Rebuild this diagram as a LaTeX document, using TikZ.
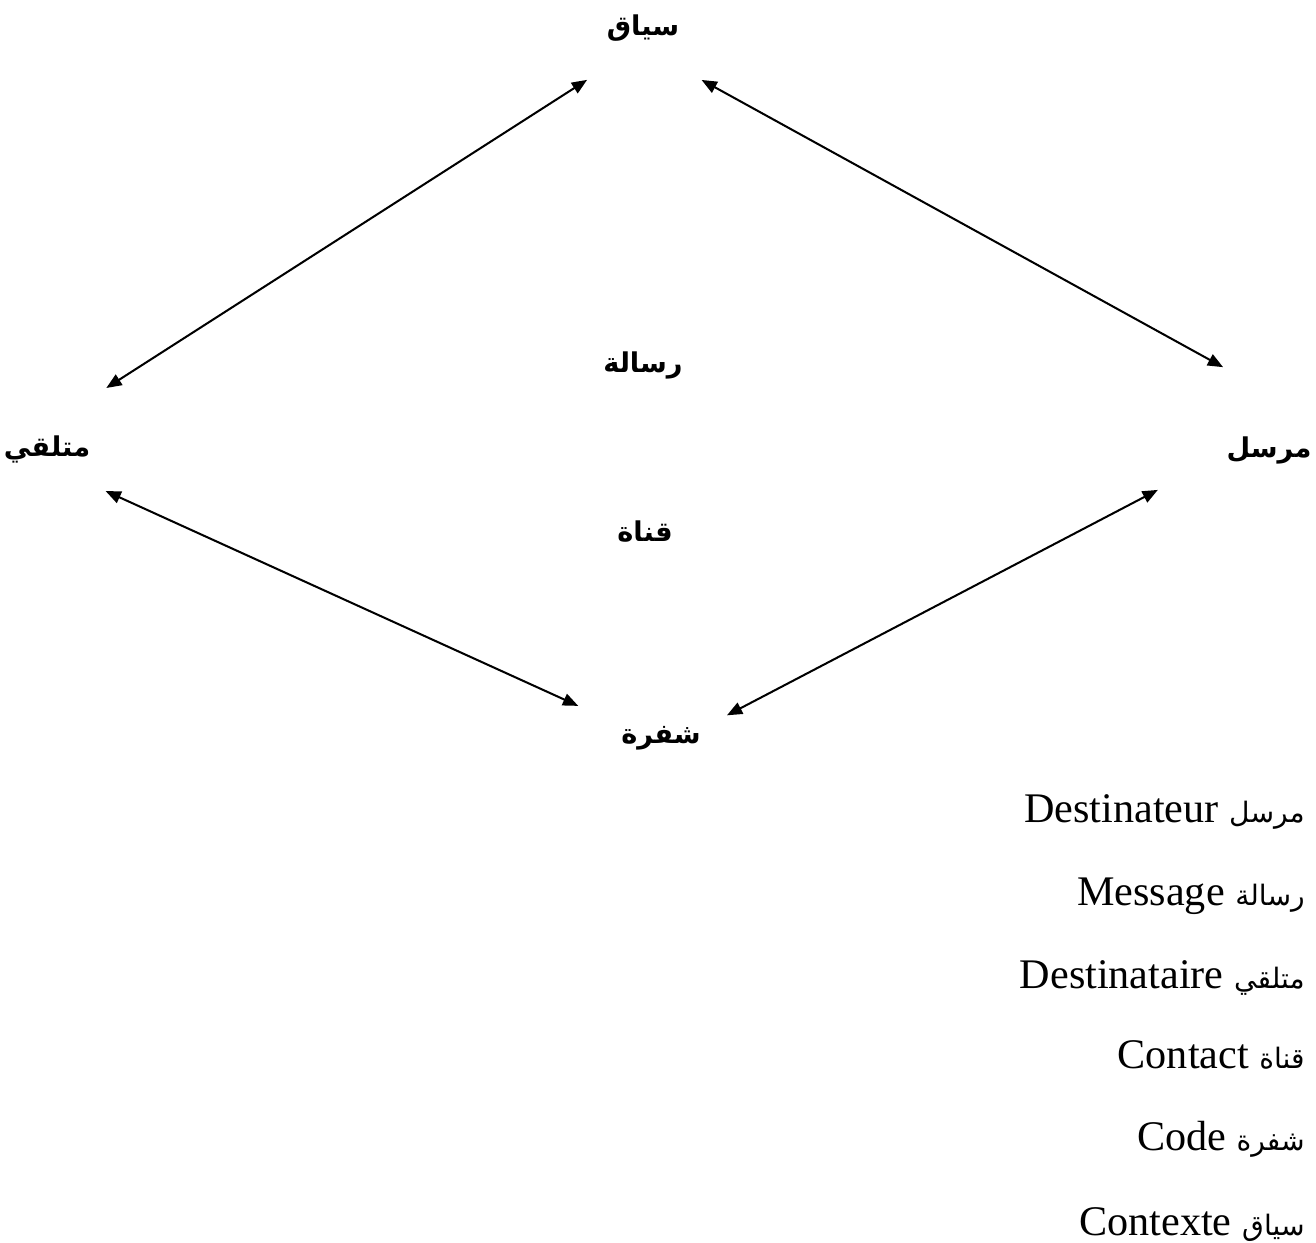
\documentclass[tikz,border=0pt]{standalone}
\usepackage{fontspec}
\setmainfont{Liberation Serif}
\newfontfamily\arabicfont[Script=Arabic]{DejaVu Sans}
\TeXXeTstate=1
\usepackage{tikz}
\usetikzlibrary{arrows.meta}
\pgfdeclarelayer{edgelayer}
\pgfdeclarelayer{nodelayer}
\pgfsetlayers{edgelayer,nodelayer,main}
\tikzstyle{edge}=[draw=black, line width=1.15pt, {Triangle[length=8.7pt,width=7pt]}-{Triangle[length=8.7pt,width=7pt]}]
\tikzstyle{term}=[rectangle, inner sep=0pt, outer sep=0pt, minimum width=2cm, minimum height=1.2cm, font=\arabicfont\bfseries\fontsize{15.5}{19}\selectfont]
\tikzstyle{gloss}=[anchor=base east, inner sep=0pt, font=\fontsize{24}{28}\selectfont]
\newcommand{\glossar}[1]{{\arabicfont\fontsize{16}{19}\selectfont\beginR #1\endR}}

\begin{document}
\begin{tikzpicture}
				\useasboundingbox (-13.16, -12.42) rectangle (13.16, 12.42);
				\begin{pgfonlayer}{nodelayer}
					\node [style=term] (1) at (-0.3, 11.86) {\beginR سياق\endR};
					\node [style=term] (2) at (-12.22, 3.44) {\beginR متلقي\endR};
					\node [style=term] (3) at (12.22, 3.42) {\beginR مرسل\endR};
					\node [style=term] (4) at (-0.3, 5.12) {\beginR رسالة\endR};
					\node [style=term] (5) at (-0.26, 1.78) {\beginR قناة\endR};
					\node [style=term] (6) at (0.06, -2.34) {\beginR شفرة\endR};
					\node [style=gloss] (7) at (12.94, -4.02) {Destinateur \glossar{مرسل}};
					\node [style=gloss] (8) at (12.94, -5.68) {Message \glossar{رسالة}};
					\node [style=gloss] (9) at (12.94, -7.34) {Destinataire \glossar{متلقي}};
					\node [style=gloss] (10) at (12.94, -8.94) {Contact \glossar{قناة}};
					\node [style=gloss] (11) at (12.94, -10.58) {Code \glossar{شفرة}};
					\node [style=gloss] (12) at (12.94, -12.28) {Contexte \glossar{سياق}};
				\end{pgfonlayer}
				\begin{pgfonlayer}{edgelayer}
					\draw [style=edge, shorten <=1.15cm, shorten >=0.81cm] (2.70.4) to (1.234.1);
					\draw [style=edge, shorten <=0.91cm, shorten >=2.19cm] (1.302.5) to (3.north east);
					\draw [style=edge, shorten <=0.58cm, shorten >=0.72cm] (2.317.5) to (6.161.2);
					\draw [style=edge, shorten <=1.38cm, shorten >=0.36cm] (3.189.3) to (6.16.3);
				\end{pgfonlayer}
			\end{tikzpicture}
\end{document}
